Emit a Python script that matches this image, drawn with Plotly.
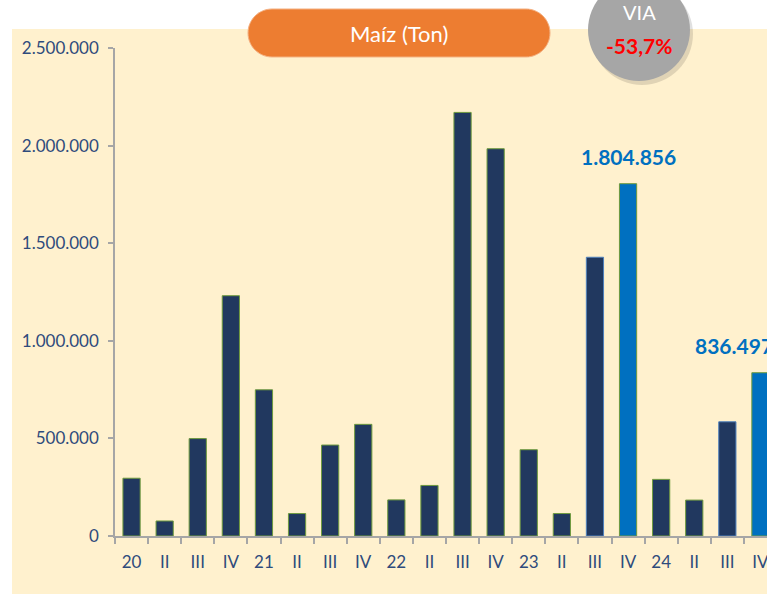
import plotly.graph_objects as go

# ---- data ----
tick_labels = ["20", "II", "III", "IV", "21", "II", "III", "IV", "22", "II",
               "III", "IV", "23", "II", "III", "IV", "24", "II", "III", "IV"]
values = [296000, 77000, 499000, 1231000, 749000, 115000, 466000, 572000, 185000, 259000,
          2170000, 1984000, 442000, 115000, 1428000, 1804856, 290000, 184000, 585000, 836497]
highlight = [15, 19]
title_text = "Maíz (Ton)"
badge_top = "VIA"
badge_value = "-53,7%"

W, H = 767, 594
L, R, T, B = 115, 0, 48, 58
PW, PH = W - L - R, H - T - B

def px(x, y):
    return (x - L) / PW, (H - B - y) / PH

NAVY = "#21385F"
BLUE = "#0070C0"
TXT = "#2F4B7C"
GREY = "#A6A6A6"

xs = list(range(len(values)))
colors = [BLUE if i in highlight else NAVY for i in xs]
lines = ["#4F81BD" if i in (14, 18) else "#6E9A3E" for i in xs]

fig = go.Figure()
fig.add_trace(go.Bar(
    x=xs, y=values, width=0.52,
    marker=dict(color=colors, line=dict(color=lines, width=1)),
    hoverinfo="skip",
))

shapes = []
# cream background
x0, y0 = px(12, 29)
x1, y1 = px(W + 5, H + 5)
shapes.append(dict(type="rect", xref="paper", yref="paper", x0=x0, y0=y1, x1=x1, y1=y0,
                   fillcolor="#FFF1CE", line=dict(width=0), layer="below"))

# title pill
def pill(xa, ya, xb, yb):
    r = (yb - ya) / 2
    k = 0.5523 * r
    def P(x, y):
        a, b = px(x, y)
        return f"{a:.5f},{b:.5f}"
    d = f"M{P(xa + r, ya)} L{P(xb - r, ya)} "
    d += f"C{P(xb - r + k, ya)} {P(xb, ya + r - k)} {P(xb, ya + r)} "
    d += f"C{P(xb, ya + r + k)} {P(xb - r + k, yb)} {P(xb - r, yb)} "
    d += f"L{P(xa + r, yb)} "
    d += f"C{P(xa + r - k, yb)} {P(xa, ya + r + k)} {P(xa, ya + r)} "
    d += f"C{P(xa, ya + r - k)} {P(xa + r - k, ya)} {P(xa + r, ya)} Z"
    return d

shapes.append(dict(type="path", xref="paper", yref="paper", path=pill(248, 9, 550, 57),
                   fillcolor="#ED7D31", line=dict(color="#F4B183", width=1), layer="above"))

# badge circle with shadow
cx, cy, cr = 639, 30, 51
a0, b0 = px(cx - cr + 3, cy + cr + 4)
a1, b1 = px(cx + cr + 3, cy - cr + 4)
shapes.append(dict(type="circle", xref="paper", yref="paper", x0=a0, y0=b0, x1=a1, y1=b1,
                   fillcolor="rgba(0,0,0,0.12)", line=dict(width=0), layer="above"))
a0, b0 = px(cx - cr, cy + cr)
a1, b1 = px(cx + cr, cy - cr)
shapes.append(dict(type="circle", xref="paper", yref="paper", x0=a0, y0=b0, x1=a1, y1=b1,
                   fillcolor="#A6A6A6", line=dict(width=0), layer="above"))

annotations = []
tx, ty = px(399, 34)
annotations.append(dict(xref="paper", yref="paper", x=tx, y=ty, text=title_text, showarrow=False,
                        font=dict(family="Lato", size=22, color="white"),
                        xanchor="center", yanchor="middle"))
tx, ty = px(639, 12)
annotations.append(dict(xref="paper", yref="paper", x=tx, y=ty, text=badge_top, showarrow=False,
                        font=dict(family="Lato", size=20, color="white"),
                        xanchor="center", yanchor="middle"))
tx, ty = px(639, 45)
annotations.append(dict(xref="paper", yref="paper", x=tx, y=ty, text="<b>" + badge_value + "</b>",
                        showarrow=False, font=dict(family="Lato", size=21, color="#FF0000"),
                        xanchor="center", yanchor="middle"))

shifts = {15: 0, 19: -26}
for i in highlight:
    annotations.append(dict(x=i, y=values[i], xref="x", yref="y",
                            text="<b>" + f"{values[i]:,}".replace(",", ".") + "</b>",
                            showarrow=False, yanchor="bottom", xanchor="center",
                            xshift=shifts[i], yshift=13,
                            font=dict(family="Lato", size=21, color=BLUE)))

fig.update_layout(
    width=W, height=H,
    margin=dict(l=L, r=R, t=T, b=B, autoexpand=False),
    paper_bgcolor="white",
    plot_bgcolor="rgba(0,0,0,0)",
    separators=",.",
    showlegend=False,
    shapes=shapes,
    annotations=annotations,
    font=dict(family="Lato", color=TXT),
)
fig.update_xaxes(
    range=[-0.5, -0.5 + PW / 33.1],
    tickmode="array", tickvals=xs, ticktext=tick_labels,
    ticks="", showgrid=False, zeroline=False,
    showline=True, linecolor=GREY, linewidth=1.5,
    tickfont=dict(family="Lato", size=17, color=TXT),
    ticklabelstandoff=10, ticklabeloverflow="allow",
    minor=dict(tickmode="array", tickvals=[i - 0.5 for i in xs] + [len(xs) - 0.5],
               ticks="outside", ticklen=6, tickcolor=GREY, tickwidth=1.5, showgrid=False),
)
fig.update_yaxes(
    range=[0, 2500000], tickvals=[0, 500000, 1000000, 1500000, 2000000, 2500000],
    tickformat=",.0f", ticks="outside", ticklen=5, tickcolor=GREY, tickwidth=1.5,
    showgrid=False, zeroline=False, showline=True, linecolor=GREY, linewidth=1.5,
    tickfont=dict(family="Lato", size=17, color=TXT),
    ticklabelstandoff=6,
)

fig.write_html("out.html", config={"displayModeBar": False},
               post_script="document.body.style.margin='0';document.body.style.overflow='hidden';")
